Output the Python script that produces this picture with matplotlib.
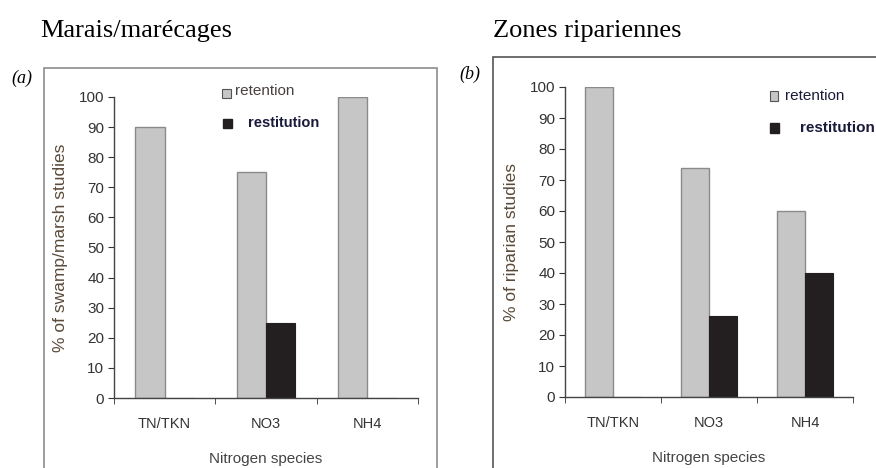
import numpy as np
from matplotlib import pyplot as plt
from matplotlib.patches import Rectangle

# data
species = ["TN/TKN", "NO3", "NH4"]
swamp_retention = [90, 75, 100]
swamp_restitution = [0, 25, 0]
riparian_retention = [100, 74, 60]
riparian_restitution = [0, 26, 40]
yticks = np.arange(0, 101, 10)

W, H = 876, 468
gray = "#c6c6c6"
edge = "#8a8a8a"
black = "#231f20"
sans = "Liberation Sans"
serif = "Liberation Serif"

fig = plt.figure(figsize=(W / 100, H / 100), dpi=100)


def px_axes(x0, y0, x1, y1):
    # pixel box (top-left origin) -> figure fraction
    return fig.add_axes([x0 / W, 1 - y1 / H, (x1 - x0) / W, (y1 - y0) / H])


def panel(ax, ret, res, ylabel):
    x = np.arange(len(species))
    w = 0.29
    ax.bar(x - w / 2, ret, w, color=gray, edgecolor=edge, linewidth=1.0, label="retention")
    ax.bar(x + w / 2, res, w, color=black, edgecolor=black, linewidth=0.8, label="restitution")
    ax.set_xlim(-0.5, 2.5)
    ax.set_ylim(0, 100)
    ax.set_yticks(yticks)
    ax.set_xticks(x)
    ax.set_xticklabels(species, fontsize=10.5, family=sans, color="#333333")
    ax.set_xticks([-0.5, 0.5, 1.5, 2.5], minor=True)
    ax.tick_params(axis="x", which="major", length=0, pad=14)
    ax.tick_params(axis="x", which="minor", length=4, color="#333333", direction="out")
    ax.tick_params(axis="y", length=4, color="#333333", labelsize=11, pad=3, labelcolor="#333333")
    for lab in ax.get_yticklabels():
        lab.set_family(sans)
    for s in ["top", "right"]:
        ax.spines[s].set_visible(False)
    for s in ["left", "bottom"]:
        ax.spines[s].set_color("#444444")
        ax.spines[s].set_linewidth(1.0)
    ax.set_ylabel(ylabel, fontsize=12.5, family=sans, color="#5a4a3a", labelpad=8)
    ax.set_xlabel("Nitrogen species", fontsize=11, family=sans, color="#444444", labelpad=15)


ax1 = px_axes(114, 97, 418, 398)
panel(ax1, swamp_retention, swamp_restitution, "% of swamp/marsh studies")
ax2 = px_axes(565, 87, 853, 397)
panel(ax2, riparian_retention, riparian_restitution, "% of riparian studies")

# panel frames
fig.patches.append(Rectangle((44 / W, -0.1), (437 - 44) / W, 1.1 - 68 / H,
                             transform=fig.transFigure, fill=False, edgecolor="#8c8c8c", linewidth=1.2))
fig.patches.append(Rectangle((493 / W, -0.1), 0.6, 1.1 - 57 / H,
                             transform=fig.transFigure, fill=False, edgecolor="#555555", linewidth=1.2))

# titles and panel letters
fig.text(40 / W, 1 - 31 / H, "Marais/marécages", fontsize=19, family=serif, va="center")
fig.text(493 / W, 1 - 31 / H, "Zones ripariennes", fontsize=19, family=serif, va="center")
fig.text(11 / W, 1 - 78 / H, "(a)", fontsize=13, family=serif, style="italic", va="center")
fig.text(459 / W, 1 - 74 / H, "(b)", fontsize=13, family=serif, style="italic", va="center")

# legends
fig.patches.append(Rectangle((222 / W, 1 - 98 / H), 9 / W, 9 / H, transform=fig.transFigure,
                             facecolor=gray, edgecolor="#555555", linewidth=0.8))
fig.text(235 / W, 1 - 91 / H, "retention", fontsize=11, family=sans, va="center", color="#4a4040")
fig.patches.append(Rectangle((223 / W, 1 - 128 / H), 9 / W, 9 / H, transform=fig.transFigure,
                             facecolor=black, edgecolor=black))
fig.text(248 / W, 1 - 123 / H, "restitution", fontsize=10.5, family=sans, va="center",
         color="#1a1a3a", weight="bold")

fig.patches.append(Rectangle((770 / W, 1 - 101 / H), 8 / W, 10 / H, transform=fig.transFigure,
                             facecolor=gray, edgecolor="#555555", linewidth=0.8))
fig.text(785 / W, 1 - 96 / H, "retention", fontsize=11, family=sans, va="center", color="#1a1a3a")
fig.patches.append(Rectangle((770 / W, 1 - 133 / H), 9 / W, 10 / H, transform=fig.transFigure,
                             facecolor=black, edgecolor=black))
fig.text(800 / W, 1 - 128 / H, "restitution", fontsize=11, family=sans, va="center",
         color="#1a1a3a", weight="bold")

fig.savefig("out.png", dpi=100)
